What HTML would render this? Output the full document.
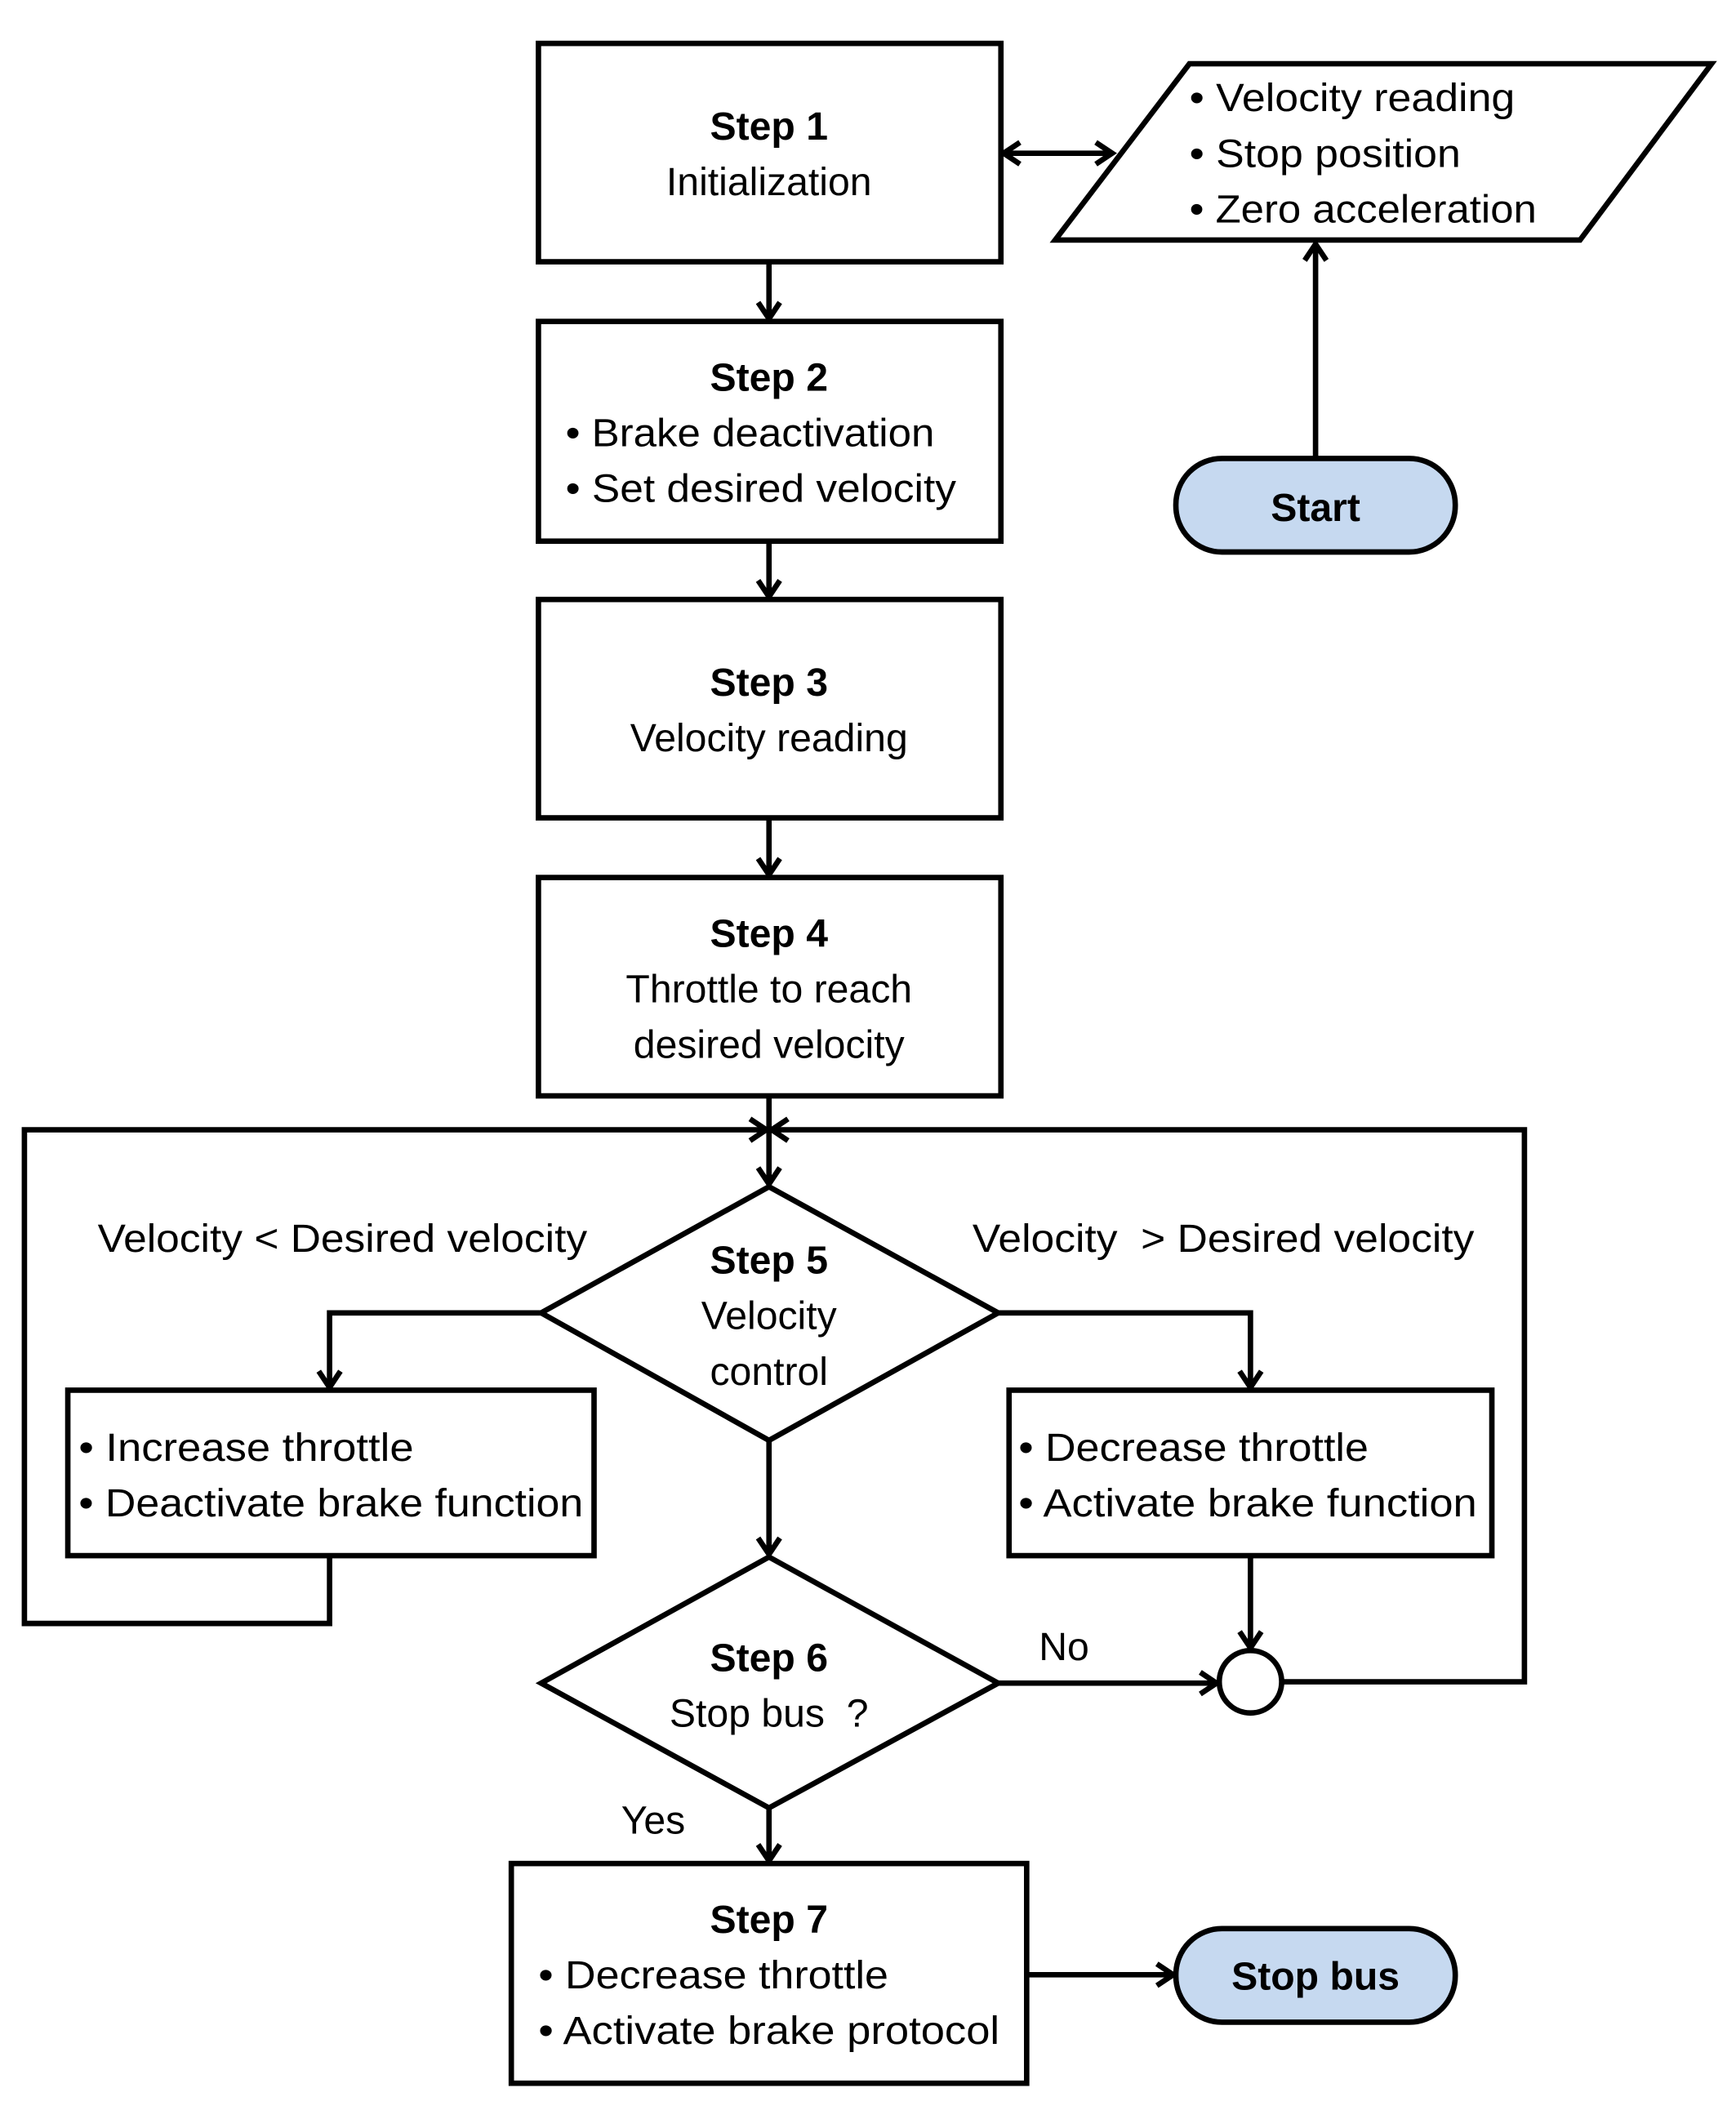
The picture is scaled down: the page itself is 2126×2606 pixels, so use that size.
<!DOCTYPE html>
<html><head><meta charset="utf-8"><style>
html,body{margin:0;padding:0;background:#fff}
svg{display:block}
text{font-family:"Liberation Sans",sans-serif;font-size:29px;fill:#000;white-space:pre}
.b{font-weight:bold}
</style></head><body>
<svg width="2126" height="2606" viewBox="0 0 1280 1569" preserveAspectRatio="none" xmlns="http://www.w3.org/2000/svg">
<defs>
<marker id="a" markerWidth="20" markerHeight="20" refX="16" refY="10" orient="auto" markerUnits="userSpaceOnUse">
<polyline points="4,2 16,10 4,18" fill="none" stroke="#000" stroke-width="4"/>
</marker>
<marker id="s" markerWidth="20" markerHeight="20" refX="4" refY="10" orient="auto" markerUnits="userSpaceOnUse">
<polyline points="16,2 4,10 16,18" fill="none" stroke="#000" stroke-width="4"/>
</marker>
</defs>
<g fill="#fff" stroke="#000" stroke-width="4">
<rect x="397" y="32" width="341" height="161"/>
<rect x="397" y="237" width="341" height="162"/>
<rect x="397" y="442" width="341" height="161"/>
<rect x="397" y="647" width="341" height="161"/>
<polygon points="877,47 1262,47 1165,177 778,177"/>
<rect x="867" y="338" width="206" height="69" rx="34" fill="#c6d9f0"/>
<polygon points="567,875 736,968 567,1062 399,968"/>
<rect x="50" y="1025" width="388" height="122"/>
<rect x="744" y="1025" width="356" height="122"/>
<polygon points="567,1148 736,1241 567,1333 399,1241"/>
<rect x="377" y="1374" width="380" height="162"/>
<rect x="867" y="1422" width="206" height="69" rx="34" fill="#c6d9f0"/>
<circle cx="922" cy="1240" r="23"/>
</g>
<g fill="none" stroke="#000" stroke-width="4">
<line x1="740" y1="113" x2="820" y2="113" marker-start="url(#s)" marker-end="url(#a)"/>
<line x1="970" y1="338" x2="970" y2="180" marker-end="url(#a)"/>
<line x1="567" y1="193" x2="567" y2="235" marker-end="url(#a)"/>
<line x1="567" y1="399" x2="567" y2="440" marker-end="url(#a)"/>
<line x1="567" y1="603" x2="567" y2="645" marker-end="url(#a)"/>
<line x1="567" y1="808" x2="567" y2="873" marker-end="url(#a)"/>
<polyline points="243,1147 243,1197 18,1197 18,833 565,833" marker-end="url(#a)"/>
<polyline points="945,1240 1124,1240 1124,833 569,833" marker-end="url(#a)"/>
<polyline points="399,968 243,968 243,1023" marker-end="url(#a)"/>
<polyline points="736,968 922,968 922,1023" marker-end="url(#a)"/>
<line x1="922" y1="1147" x2="922" y2="1215" marker-end="url(#a)"/>
<line x1="567" y1="1062" x2="567" y2="1146" marker-end="url(#a)"/>
<line x1="736" y1="1241" x2="897" y2="1241" marker-end="url(#a)"/>
<line x1="567" y1="1333" x2="567" y2="1372" marker-end="url(#a)"/>
<line x1="757" y1="1456" x2="865" y2="1456" marker-end="url(#a)"/>
</g>
<g text-anchor="middle">
<text x="567" y="103" class="b">Step 1</text>
<text x="567" y="144">Initialization</text>
<text x="567" y="288" class="b">Step 2</text>
<text x="567" y="513" class="b">Step 3</text>
<text x="567" y="554">Velocity reading</text>
<text x="567" y="698" class="b">Step 4</text>
<text x="567" y="739">Throttle to reach</text>
<text x="567" y="780">desired velocity</text>
<text x="567" y="939" class="b">Step 5</text>
<text x="567" y="980">Velocity</text>
<text x="567" y="1021">control</text>
<text x="567" y="1232" class="b">Step 6</text>
<text x="567" y="1273">Stop bus  ?</text>
<text x="567" y="1425" class="b">Step 7</text>
<text x="970" y="384" class="b">Start</text>
<text x="970" y="1467" class="b">Stop bus</text>
</g>
<text x="72" y="923" textLength="361" lengthAdjust="spacingAndGlyphs">Velocity &lt; Desired velocity</text>
<text x="717" y="923" textLength="370" lengthAdjust="spacingAndGlyphs">Velocity  &gt; Desired velocity</text>
<text x="417" y="329" textLength="272" lengthAdjust="spacingAndGlyphs">• Brake deactivation</text>
<text x="417" y="370" textLength="288" lengthAdjust="spacingAndGlyphs">• Set desired velocity</text>
<text x="877" y="82" textLength="240" lengthAdjust="spacingAndGlyphs">• Velocity reading</text>
<text x="877" y="123" textLength="200" lengthAdjust="spacingAndGlyphs">• Stop position</text>
<text x="877" y="164" textLength="256" lengthAdjust="spacingAndGlyphs">• Zero acceleration</text>
<text x="58" y="1077" textLength="247" lengthAdjust="spacingAndGlyphs">• Increase throttle</text>
<text x="58" y="1118" textLength="372" lengthAdjust="spacingAndGlyphs">• Deactivate brake function</text>
<text x="751" y="1077" textLength="258" lengthAdjust="spacingAndGlyphs">• Decrease throttle</text>
<text x="751" y="1118" textLength="338" lengthAdjust="spacingAndGlyphs">• Activate brake function</text>
<text x="397" y="1466" textLength="258" lengthAdjust="spacingAndGlyphs">• Decrease throttle</text>
<text x="397" y="1507" textLength="340" lengthAdjust="spacingAndGlyphs">• Activate brake protocol</text>
<text x="766" y="1224">No</text>
<text x="458" y="1352">Yes</text>
</svg>
</body></html>
